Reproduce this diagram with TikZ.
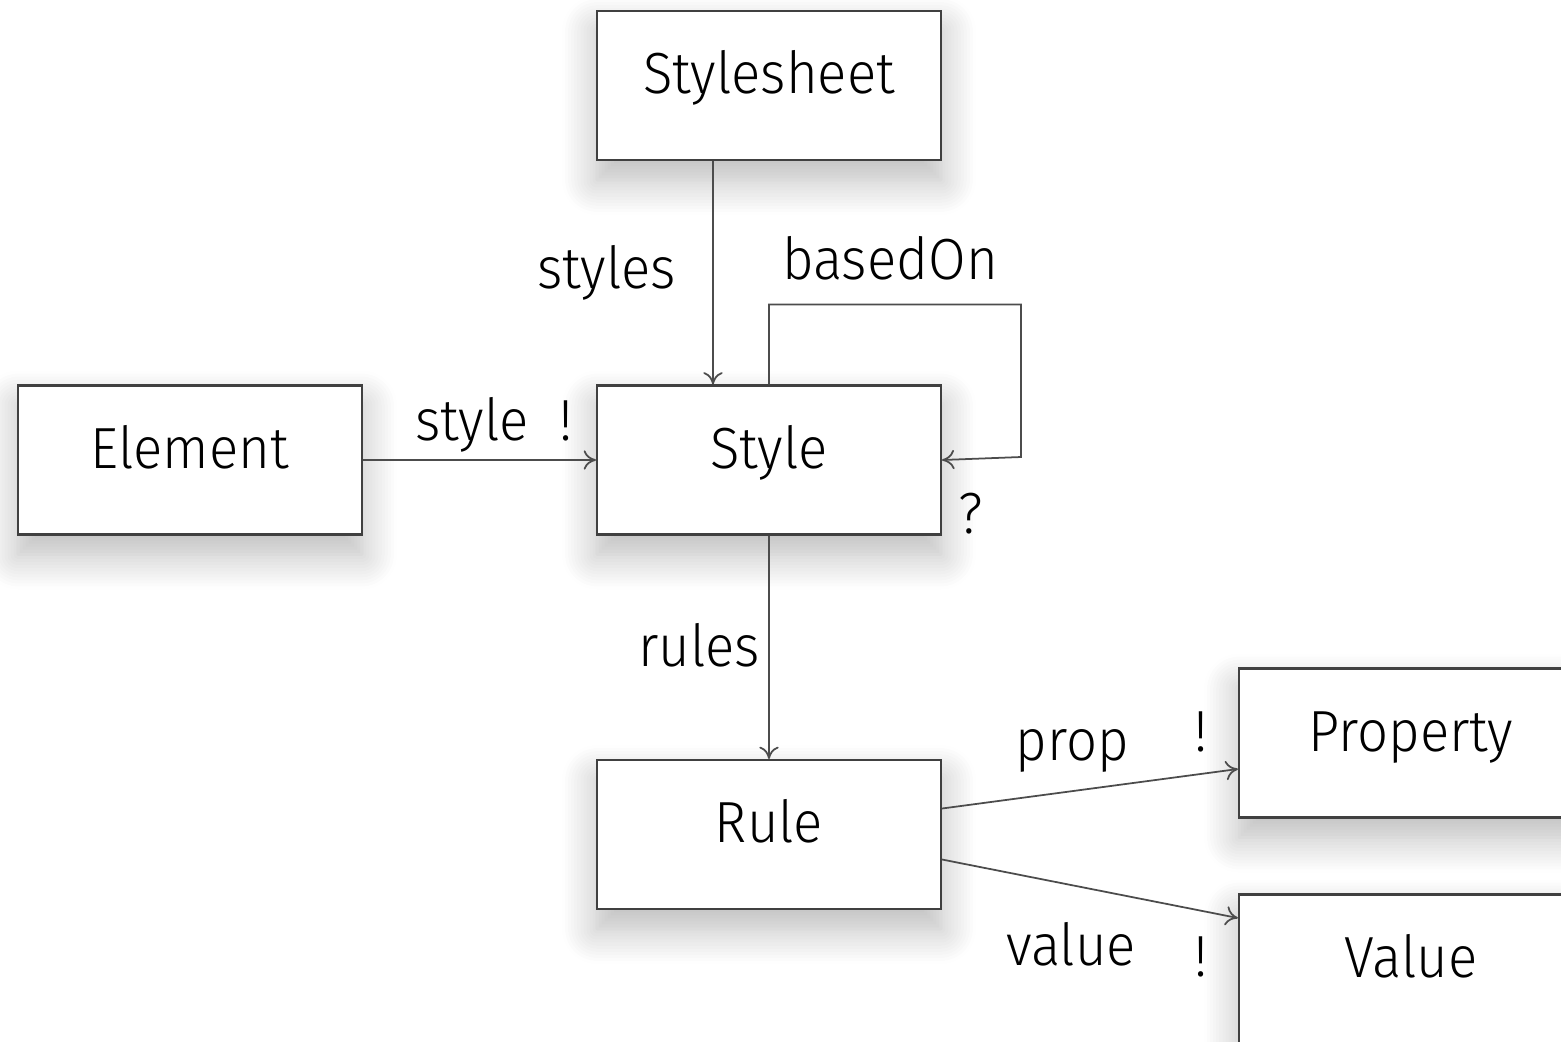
\documentclass[tikz,border=0pt]{standalone}
\usepackage{fontspec}
\setmainfont{Fira Sans}[UprightFont=* Light, FakeStretch=0.94]
\usetikzlibrary{shadows.blur,arrows.meta}

\begin{document}
\begin{tikzpicture}[
    every node/.style={font=\fontsize{16.5}{20}\selectfont},
    cls/.style={draw=black!75, line width=0.6pt, fill=white, minimum width=3.44cm, minimum height=1.49cm,
      inner sep=0pt, text height=0.40cm, text depth=0.24cm,
      blur shadow={shadow xshift=0pt, shadow yshift=-0.2cm, shadow blur radius=0.35cm,
        shadow blur steps=12, shadow opacity=28}},
    lbl/.style={inner sep=0pt, text height=0.45cm, text depth=0.13cm},
    link/.style={draw=black!70, line width=0.5pt, -{To[length=3.5pt,width=5.5pt]}}
  ]
  \clip (0,0) rectangle (15.61,-10.41);

  % classes
  \node[cls] (sheet) at (7.69,-0.855) {Stylesheet};
  \node[cls] (elem)  at (1.90,-4.60)  {Element};
  \node[cls] (style) at (7.69,-4.60)  {Style};
  \node[cls] (rule)  at (7.69,-8.345) {Rule};
  \node[cls] (prop)  at (14.11,-7.43) {Property};
  \node[cls] (value) at (14.11,-9.69) {Value};

  % associations
  \draw[link] ([xshift=-0.56cm]sheet.south) -- node[lbl, left=0.36cm] {styles} ([xshift=-0.56cm]style.north);
  \draw[link] (elem) -- node[lbl, pos=0.468, yshift=0.36cm] {style}
    node[lbl, pos=0.872, yshift=0.36cm] {!} (style);
  \draw[link] (style.north) -- ++(0,0.80) -| node[lbl, pos=0.25, xshift=-0.05cm, yshift=0.41cm] {basedOn}
    ([xshift=0.79cm,yshift=0.03cm]style.east) -- (style.east)
    node[lbl, xshift=0.29cm, yshift=-0.57cm] {?};
  \draw[link] (style) -- node[lbl, xshift=-0.70cm, yshift=-0.03cm] {rules} (rule);

  % rule parts
  \draw[link] ([yshift=0.26cm]rule.east) -- node[lbl, pos=0.44, yshift=0.47cm] {prop}
    node[lbl, pos=0.876, yshift=0.38cm] {!} ([yshift=-0.26cm]prop.west);
  \draw[link] ([yshift=-0.25cm]rule.east) -- node[lbl, pos=0.436, yshift=-0.64cm] {value}
    node[lbl, pos=0.876, yshift=-0.50cm] {!} ([yshift=0.51cm]value.west);
\end{tikzpicture}
\end{document}
